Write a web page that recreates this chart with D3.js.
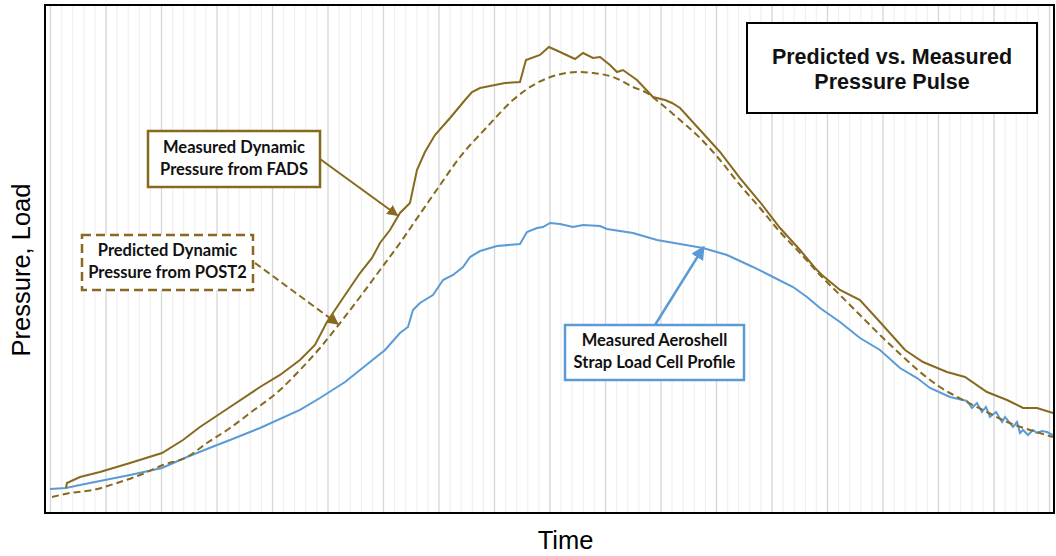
<!DOCTYPE html>
<html>
<head>
<meta charset="utf-8">
<script src="https://cdn.jsdelivr.net/npm/d3@7"></script>
<style>
  body { margin: 0; background: #fff; }
  svg { display: block; }
</style>
</head>
<body>
<div id="chart"></div>
<script>
// time (arbitrary units, major grid every 5) and pressure/load (arbitrary units)
const fadsTime = [1.44, 1.53, 2.70, 4.50, 7.21, 10.09, 11.98, 13.51, 16.22, 18.92, 20.72, 22.52, 23.87, 24.95, 26.40, 27.93, 29.01, 29.73, 30.63, 31.53, 32.43, 33.06, 33.78, 34.68, 36.04, 37.39, 38.02, 38.74, 39.64, 40.99, 42.34, 42.88, 44.14, 44.95, 45.95, 47.30, 48.02, 48.92, 49.55, 50.45, 51.08, 51.62, 52.88, 54.32, 55.41, 56.04, 56.76, 58.56, 60.36, 62.16, 63.96, 65.77, 67.57, 68.92, 69.55, 71.17, 72.97, 74.77, 77.03, 78.65, 80.81, 82.43, 84.41, 86.22, 87.66, 88.92, 90.36];
const fadsValue = [4.92, 5.91, 7.09, 8.07, 9.84, 11.81, 14.37, 16.93, 20.87, 24.80, 27.17, 30.12, 33.07, 37.60, 42.32, 47.24, 50.20, 53.15, 55.71, 59.06, 61.02, 67.52, 71.06, 74.41, 77.76, 81.30, 82.87, 83.66, 84.06, 84.65, 84.84, 89.17, 90.16, 91.73, 90.75, 89.37, 90.55, 89.57, 89.76, 88.19, 86.81, 87.20, 85.24, 81.89, 81.30, 80.71, 79.72, 75.39, 71.06, 65.94, 61.22, 56.10, 51.77, 48.23, 46.85, 43.90, 41.93, 37.60, 32.09, 29.72, 27.76, 26.77, 23.82, 22.24, 20.67, 20.67, 19.69];

const postTime = [0.18, 1.80, 3.87, 6.04, 8.11, 10.18, 12.34, 14.14, 16.22, 18.02, 20.72, 22.52, 24.32, 26.13, 27.93, 29.73, 31.53, 33.33, 35.14, 36.94, 39.37, 41.71, 43.87, 45.68, 47.48, 48.92, 50.72, 52.52, 53.78, 54.95, 56.76, 58.56, 60.36, 62.16, 63.96, 65.77, 67.57, 69.37, 71.17, 72.97, 74.77, 76.58, 78.38, 80.18, 82.25, 84.41, 86.22, 88.29, 90.36];
const postValue = [3.15, 3.94, 4.53, 5.91, 7.48, 9.45, 11.02, 13.78, 16.73, 19.69, 24.21, 28.15, 32.48, 37.40, 42.52, 47.83, 53.15, 58.86, 64.57, 70.08, 75.98, 81.30, 84.65, 86.22, 86.81, 86.61, 85.83, 83.86, 82.68, 80.71, 77.36, 73.82, 69.49, 64.57, 60.04, 55.31, 51.18, 46.85, 42.91, 38.98, 35.04, 31.30, 27.76, 24.80, 22.24, 19.88, 17.91, 16.34, 14.96];

const loadTime = [0.00, 1.44, 2.70, 4.50, 7.21, 10.09, 12.34, 15.05, 16.22, 18.92, 22.52, 24.32, 26.58, 28.83, 30.18, 31.53, 32.25, 32.70, 33.33, 34.50, 35.41, 36.31, 37.21, 37.84, 38.74, 40.27, 42.34, 42.97, 43.87, 44.41, 45.05, 45.95, 47.12, 48.02, 49.55, 50.18, 52.52, 54.68, 56.76, 58.83, 60.99, 63.33, 65.14, 66.94, 68.20, 69.37, 71.17, 72.97, 74.77, 76.58, 78.11, 79.28, 81.08, 82.61, 83.06, 83.51, 83.96, 84.32, 84.68, 85.23, 85.77, 86.04, 86.76, 87.12, 87.39, 87.66, 88.11, 88.56, 88.92, 89.37, 89.82, 90.36];
const loadValue = [4.72, 4.92, 5.51, 6.30, 7.48, 8.86, 11.02, 13.39, 14.37, 16.73, 20.28, 22.64, 25.79, 29.72, 32.09, 35.43, 36.61, 39.96, 41.34, 42.91, 45.87, 46.85, 48.43, 50.39, 51.57, 52.56, 52.95, 55.31, 56.10, 56.30, 57.09, 56.89, 56.30, 56.69, 56.50, 55.91, 55.12, 53.74, 52.95, 52.17, 50.79, 48.43, 46.46, 44.49, 42.52, 40.35, 37.60, 34.45, 32.09, 28.54, 26.57, 24.61, 22.83, 22.05, 20.67, 21.65, 19.88, 20.87, 18.90, 19.88, 17.91, 18.90, 16.93, 17.91, 15.75, 16.34, 15.35, 16.34, 15.75, 16.14, 15.94, 15.35];

const chartTitle = ["Predicted vs. Measured", "Pressure Pulse"];
const fadsLabel = ["Measured Dynamic", "Pressure from FADS"];
const postLabel = ["Predicted Dynamic", "Pressure from POST2"];
const loadLabel = ["Measured Aeroshell", "Strap Load Cell Profile"];

const width = 1056, height = 556;
const margin = {top: 5, right: 2, bottom: 43, left: 45};
const brown = "#876a1f", blue = "#5b9bd5";

const svg = d3.select("#chart").append("svg")
  .attr("width", width).attr("height", height);

const x = d3.scaleLinear().domain([-0.45, 90.45]).range([margin.left, width - margin.right]);
const y = d3.scaleLinear().domain([0, 100]).range([height - margin.bottom, margin.top]);

// vertical gridlines
svg.append("g")
  .attr("transform", `translate(0,${y(0)})`)
  .call(d3.axisBottom(x).tickValues(d3.range(0, 91, 1).filter(d => d % 5 != 0)).tickSize(-(y(0) - y(100))).tickFormat(""))
  .call(g => g.select(".domain").remove())
  .call(g => g.selectAll("line").attr("stroke", "#f0f0f0").attr("stroke-width", 1.2));
svg.append("g")
  .attr("transform", `translate(0,${y(0)})`)
  .call(d3.axisBottom(x).tickValues(d3.range(0, 91, 5)).tickSize(-(y(0) - y(100))).tickFormat(""))
  .call(g => g.select(".domain").remove())
  .call(g => g.selectAll("line").attr("stroke", "#d6d6d6").attr("stroke-width", 1.3));

const toPts = (ts, vs) => ts.map((t, i) => [t, vs[i]]);
const line = d3.line().x(d => x(d[0])).y(d => y(d[1]));

svg.append("path").datum(toPts(loadTime, loadValue))
  .attr("d", line).attr("fill", "none").attr("stroke", blue).attr("stroke-width", 2);
svg.append("path").datum(toPts(postTime, postValue))
  .attr("d", line.curve(d3.curveMonotoneX)).attr("fill", "none").attr("stroke", brown)
  .attr("stroke-width", 2).attr("stroke-dasharray", "7,4");
svg.append("path").datum(toPts(fadsTime, fadsValue))
  .attr("d", line.curve(d3.curveLinear)).attr("fill", "none").attr("stroke", brown).attr("stroke-width", 2);

// plot frame
svg.append("rect")
  .attr("x", x(-0.45)).attr("y", y(100))
  .attr("width", x(90.45) - x(-0.45)).attr("height", y(0) - y(100))
  .attr("fill", "none").attr("stroke", "#000").attr("stroke-width", 2);

// arrow markers
const defs = svg.append("defs");
[["head-brown", brown], ["head-blue", blue]].forEach(([id, c]) => {
  defs.append("marker").attr("id", id)
    .attr("viewBox", "0 0 10 10").attr("refX", 9).attr("refY", 5)
    .attr("markerWidth", 5.5).attr("markerHeight", 5.5).attr("orient", "auto")
    .attr("markerUnits", "strokeWidth")
    .append("path").attr("d", "M0,0L10,5L0,10Z").attr("fill", c);
});

function callout(box, lines, color, opts) {
  const g = svg.append("g");
  g.append("rect")
    .attr("x", box[0]).attr("y", box[1]).attr("width", box[2]).attr("height", box[3])
    .attr("fill", "#fff").attr("stroke", color).attr("stroke-width", opts.sw || 2)
    .attr("stroke-dasharray", opts.dash || null);
  g.selectAll("text").data(lines).enter().append("text")
    .attr("x", box[0] + box[2] / 2)
    .attr("y", (d, i) => opts.y0 + i * opts.dy)
    .attr("text-anchor", "middle")
    .attr("font-family", opts.font)
    .attr("font-weight", "bold")
    .attr("font-size", opts.size)
    .attr("fill", "#111")
    .text(d => d);
  return g;
}

function arrow(from, to, color, dash, sw) {
  svg.append("line")
    .attr("x1", from[0]).attr("y1", from[1]).attr("x2", to[0]).attr("y2", to[1])
    .attr("stroke", color).attr("stroke-width", sw)
    .attr("stroke-dasharray", dash)
    .attr("marker-end", `url(#${color == blue ? "head-blue" : "head-brown"})`);
}

const calloutFont = "Lato, 'Open Sans', sans-serif";

arrow([320, 159], [x(31.3), y(58.6)], brown, null, 2);
callout([148, 131, 172, 56], fadsLabel, brown, {font: calloutFont, size: 16.5, y0: 153, dy: 22, sw: 2.5});

arrow([255, 263], [x(25.95), y(37.2)], brown, "7,4", 2);
callout([82, 235, 171, 55], postLabel, brown, {font: calloutFont, size: 16.5, y0: 256, dy: 22, dash: "9,5", sw: 2.5});

arrow([655, 325], [x(58.9), y(52.4)], blue, null, 2.5);
callout([565, 325, 179, 55], loadLabel, blue, {font: calloutFont, size: 16.5, y0: 346, dy: 22, sw: 2.5});

callout([747, 23, 290, 90], chartTitle, "#000", {font: "'Liberation Sans', Arial, sans-serif", size: 21.5, y0: 64, dy: 25, sw: 2});

// axis titles
svg.append("text")
  .attr("transform", `translate(30,${(y(0) + y(100)) / 2 + 11}) rotate(-90)`)
  .attr("text-anchor", "middle")
  .attr("font-family", "'Liberation Sans', Arial, sans-serif")
  .attr("font-size", 25.5)
  .text("Pressure, Load");

svg.append("text")
  .attr("x", (x(-0.45) + x(90.45)) / 2 + 16)
  .attr("y", 549)
  .attr("text-anchor", "middle")
  .attr("font-family", "'Liberation Sans', Arial, sans-serif")
  .attr("font-size", 25.5)
  .text("Time");
</script>
</body>
</html>
